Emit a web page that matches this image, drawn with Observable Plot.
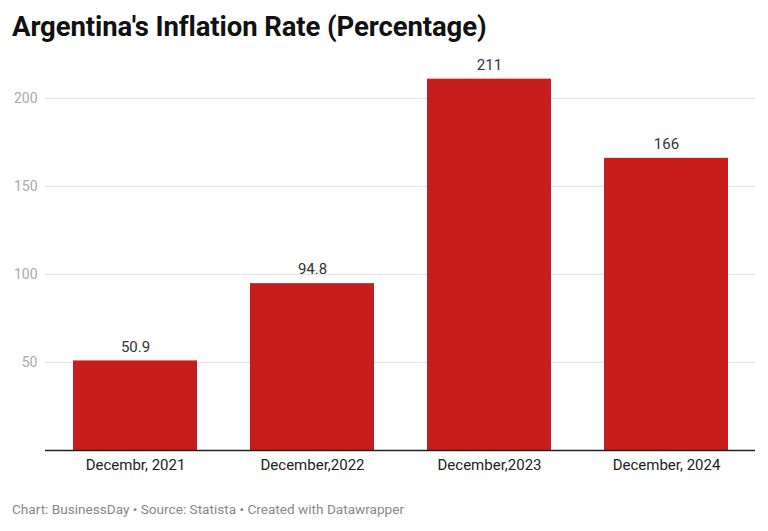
<!DOCTYPE html>
<html>
<head>
<meta charset="utf-8">
<script src="https://cdn.jsdelivr.net/npm/d3@7"></script>
<script src="https://cdn.jsdelivr.net/npm/@observablehq/plot@0.6"></script>
<style>
  html, body { margin: 0; padding: 0; background: #fff; font-family: Roboto, "Noto Sans", sans-serif; }
  #wrap { width: 768px; height: 531px; position: relative; overflow: hidden; }
  h1 { position: absolute; left: 12px; top: 10px; margin: 0; font-size: 27.5px; font-weight: 700; color: #111; letter-spacing: -0.1px; }
  #chart { position: absolute; left: 0; top: 50px; }
  #caption { position: absolute; left: 12px; top: 501px; font-size: 13.6px; color: #888; }
</style>
</head>
<body>
<div id="wrap">
  <h1>Argentina's Inflation Rate (Percentage)</h1>
  <div id="chart"></div>
  <div id="caption">Chart: BusinessDay • Source: Statista • Created with Datawrapper</div>
</div>
<script>
const categories = ["Decembr, 2021", "December,2022", "December,2023", "December, 2024"];
const values = [50.9, 94.8, 211, 166];
const valueLabels = ["50.9", "94.8", "211", "166"];
const yTicks = [50, 100, 150, 200];

const data = categories.map((c, i) => ({category: c, value: values[i], label: valueLabels[i]}));

const chart = Plot.plot({
  width: 768,
  height: 430,
  marginLeft: 45,
  marginRight: 13,
  marginTop: 48,
  marginBottom: 30,
  style: {fontFamily: "Roboto, sans-serif", fontSize: "14px", background: "transparent"},
  x: {domain: categories, paddingInner: 0.3, paddingOuter: 0.15, label: null, tickSize: 0, tickPadding: 8},
  y: {domain: [0, 200], ticks: yTicks, label: null, tickSize: 0, tickPadding: 8},
  marks: [
    Plot.gridY(yTicks, {stroke: "#e3e3e3", strokeOpacity: 1, strokeWidth: 1}),
    Plot.axisY({ticks: yTicks, tickSize: 0, tickPadding: 8, fill: "#aaa", fontSize: 14, label: null}),
    Plot.barY(data, {x: "category", y: "value", fill: "#c71e1d"}),
    Plot.ruleY([0], {stroke: "#222", strokeWidth: 1.3}),
    Plot.text(data, {x: "category", y: "value", text: "label", dy: -14, fill: "#333", fontSize: 15}),
    Plot.axisX({tickSize: 0, tickPadding: 9, fill: "#222", fontSize: 15, label: null})
  ]
});
document.getElementById("chart").appendChild(chart);
</script>
</body>
</html>
